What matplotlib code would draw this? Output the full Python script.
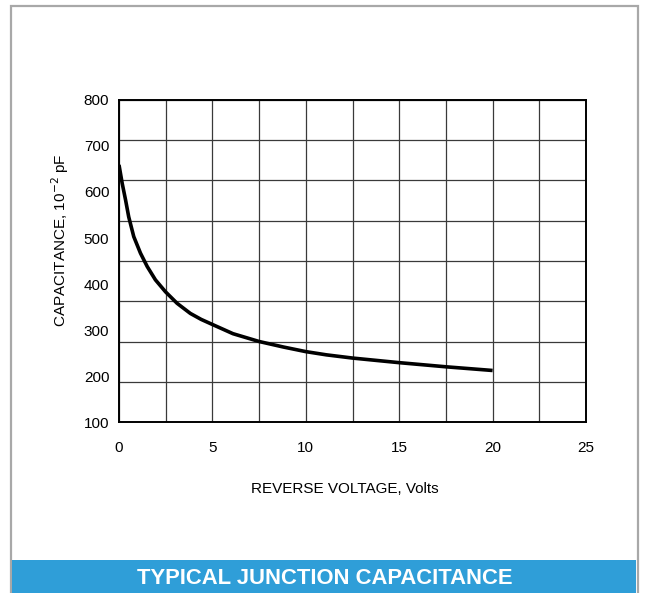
import matplotlib
matplotlib.use("Agg")
import matplotlib.pyplot as plt
from matplotlib.patches import Rectangle
import numpy as np

plt.rcParams["font.family"] = ["Liberation Sans", "DejaVu Sans"]

# ===== data =====
volts = [0, 0.17, 0.35, 0.52, 0.79, 1.15, 1.51, 1.95, 2.49, 3.11, 3.82, 4.4,
         5.0, 6.1, 7.5, 8.8, 10.0, 11.1, 12.5, 15.0, 17.5, 20.0]
cap = [659, 619, 583, 546, 503, 467, 438, 409, 383, 358, 336, 323,
       312, 292, 275, 263, 253, 246, 239, 229, 220, 212]

x_ticks = [0, 5, 10, 15, 20, 25]
y_ticks = [100, 200, 300, 400, 500, 600, 700, 800]
x_grid = np.arange(0, 25.01, 2.5)
y_grid = np.linspace(100, 800, 9)  # grid has 8 rows, labels only 7 steps

fig = plt.figure(figsize=(6.45, 5.93), dpi=100)

# ===== outer frame + title banner =====
fig.patches.append(Rectangle((11 / 645, -0.01), 627 / 645, 1.01 - 6 / 593,
                             transform=fig.transFigure, fill=False,
                             edgecolor="#a8a8a8", linewidth=1.6))
fig.patches.append(Rectangle((12 / 645, 0), 624 / 645, 33 / 593,
                             transform=fig.transFigure,
                             facecolor="#2f9ed8", edgecolor="none"))
fig.text(325 / 645, 15 / 593, "TYPICAL JUNCTION CAPACITANCE", color="white",
         fontsize=15.8, fontweight="bold", ha="center", va="center")

# ===== chart =====
ax = fig.add_axes([119 / 645, 171 / 593, 467 / 645, 322 / 593])

ax.plot(volts, cap, color="black", linewidth=2.6, solid_capstyle="butt",
        solid_joinstyle="round")

ax.set_xlim(0, 25)
ax.set_ylim(100, 800)
ax.set_xticks(x_ticks)
ax.set_yticks(y_ticks)
ax.set_xticks(x_grid, minor=True)
ax.set_yticks(y_grid, minor=True)
ax.xaxis.remove_overlapping_locs = False
ax.yaxis.remove_overlapping_locs = False
ax.tick_params(which="both", length=0, labelsize=11)
ax.tick_params(axis="x", pad=14)
ax.tick_params(axis="y", pad=7)
ax.grid(True, which="minor", color="#3a3a3a", linewidth=0.9)
ax.grid(False, which="major")
for sp in ax.spines.values():
    sp.set_linewidth(1.4)

ax.set_xlabel("REVERSE VOLTAGE, Volts", fontsize=11)
ax.set_ylabel("CAPACITANCE, 10$^{-2}$ pF", fontsize=11)
ax.xaxis.set_label_coords(0.483, -0.185)
ax.yaxis.set_label_coords(-0.103, 0.565)

plt.savefig("out.png", dpi=100)
plt.close(fig)
